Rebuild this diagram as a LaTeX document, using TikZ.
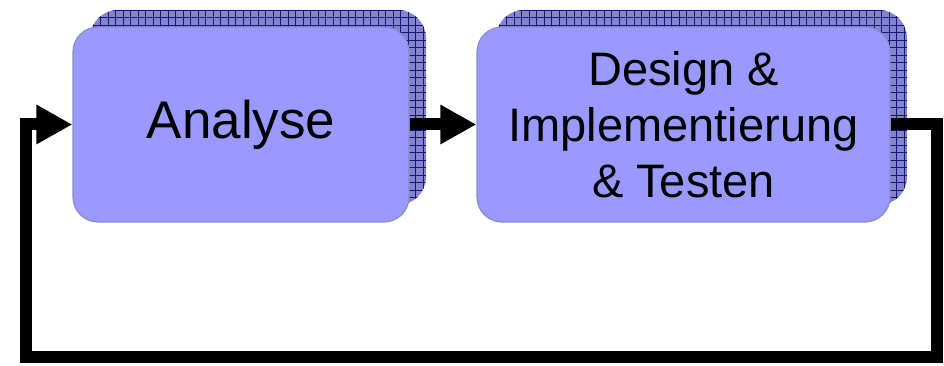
\documentclass[tikz,border=0pt]{standalone}
\usepackage{fontspec}
\setmainfont{Liberation Sans}
\usepackage{tikz}
\usetikzlibrary{positioning,arrows.meta}
\definecolor{boxfill}{RGB}{153,153,255}
\definecolor{boxline}{RGB}{140,140,200}
\definecolor{shadefill}{RGB}{132,132,200}
\definecolor{shadegrid}{RGB}{20,20,130}
\tikzset{
  phase/.style={draw=boxline, line width=1.2pt, fill=boxfill, rounded corners=25pt,
    minimum height=195pt, align=center, inner sep=0pt},
  backbox/.style={fill=shadefill, rounded corners=28pt, minimum height=195pt, inner sep=0pt,
    path picture={\draw[shadegrid, line width=0.6pt, step=7.5pt]
      (path picture bounding box.south west) grid (path picture bounding box.north east);}},
  flow/.style={line width=12pt, -{Triangle[length=36pt,width=37pt]}}
}

\begin{document}
\begin{tikzpicture}[x=1pt,y=-1pt]
	\useasboundingbox (0,0) rectangle (944,366);
	\node[backbox, minimum width=336pt] (analyse-back) at (258,107.5) {};
	\node[backbox, minimum width=411pt] (design-back) at (701.5,107.5) {};
	\node[phase, minimum width=336pt, font=\fontsize{53}{60}\selectfont] (analyse) at (241,124.5) {Analyse};
	\node[phase, minimum width=413pt, font=\fontsize{47}{56}\selectfont] (design) at (683.5,124.5) {Design \&\\Implementierung\\\& Testen};
	\coordinate (br) at (937,357);
	\coordinate (bl) at (26,357);
	\draw[flow] (analyse.east) -- (design.west);
	\draw[flow] (design.east) -| (br) -- (bl) |- (analyse.west);
\end{tikzpicture}
\end{document}
